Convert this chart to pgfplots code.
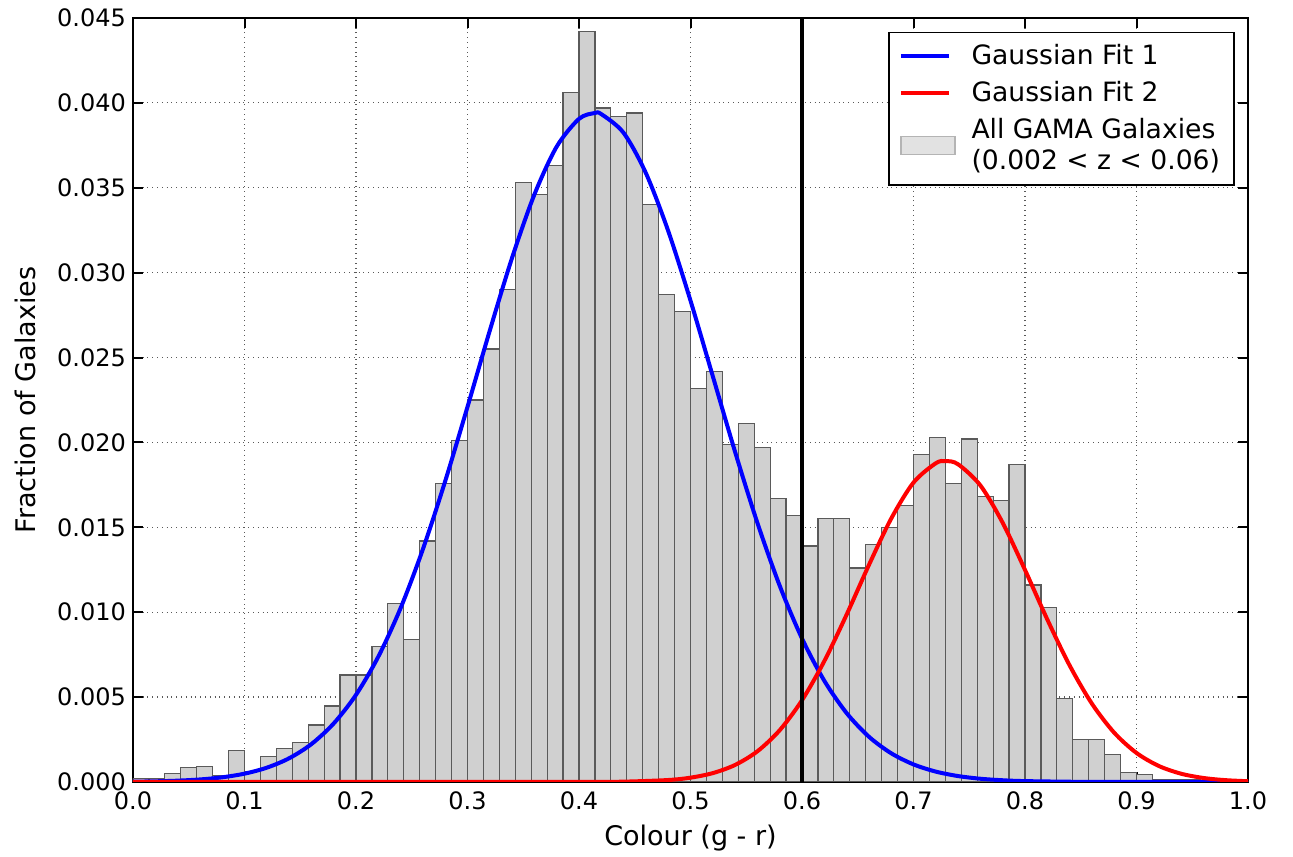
\documentclass[border=0pt]{standalone}
\usepackage{fontspec}
\setmainfont{DejaVu Sans}
\usepackage{pgfplots}
\pgfplotsset{compat=1.18}
\definecolor{barfill}{RGB}{208,208,208}
\definecolor{baredge}{RGB}{90,90,90}
\definecolor{legfill}{RGB}{226,226,226}
\definecolor{legedge}{RGB}{180,180,180}
\begin{document}
\begin{tikzpicture}
\begin{axis}[
  name=ax,
  scale only axis,
  width=557.5pt, height=382pt,
  xmin=0, xmax=1, ymin=0, ymax=0.045,
  xtick={0,0.1,...,1.0},
  ytick={0,0.005,0.01,0.015,0.02,0.025,0.03,0.035,0.04,0.045},
  scaled y ticks=false, scaled x ticks=false,
  /pgf/number format/assume math mode=true,
  xticklabel style={/pgf/number format/.cd,fixed,fixed zerofill,precision=1,/tikz/.cd,yshift=-1.5pt},
  yticklabel style={/pgf/number format/.cd,fixed,fixed zerofill,precision=3},
  tick label style={font=\fontsize{12}{14}\selectfont},
  label style={font=\fontsize{13.5}{16}\selectfont},
  xlabel={Colour (g - r)},
  ylabel={Fraction of Galaxies},
  xlabel style={at={(axis description cs:0.5,-0.0733)}, anchor=center},
  ylabel style={at={(axis description cs:-0.0969,0.5)}, anchor=center},
  tick align=inside,
  major tick length=5pt,
  tick style={black, line width=1pt},
  axis line style={line width=1.2pt},
  grid=major,
  grid style={dotted, black!65, line width=0.6pt},
  legend style={at={(0.988,0.982)}, anchor=north east, draw=black, line width=0.6pt,
    font=\fontsize{13.3}{15.5}\selectfont, nodes={align=left}, row sep=3pt,
    column sep=6pt, inner xsep=5pt, inner ysep=4pt},
  legend cell align=left,
  legend image code/.code={\draw[#1] (0pt,0pt) -- (24pt,0pt);},
]
\addplot[ybar interval, fill=barfill, draw=baredge, line width=0.6pt, forget plot] coordinates {
(0.00000,0.0002) (0.01429,0.0002) (0.02857,0.0005) (0.04286,0.00085) (0.05714,0.0009)
(0.07143,0.0004) (0.08571,0.00185) (0.10000,0.0006) (0.11429,0.0015) (0.12857,0.00195)
(0.14286,0.00234) (0.15714,0.00336) (0.17143,0.00448) (0.18571,0.0063) (0.20000,0.0063)
(0.21429,0.0080) (0.22857,0.0105) (0.24286,0.0084) (0.25714,0.0142) (0.27143,0.0176)
(0.28571,0.0201) (0.30000,0.0225) (0.31429,0.0255) (0.32857,0.0290) (0.34286,0.0353)
(0.35714,0.0346) (0.37143,0.0363) (0.38571,0.0406) (0.40000,0.0442) (0.41429,0.0397)
(0.42857,0.0392) (0.44286,0.0394) (0.45714,0.0340) (0.47143,0.0287) (0.48571,0.0277)
(0.50000,0.0232) (0.51429,0.0242) (0.52857,0.0199) (0.54286,0.0211) (0.55714,0.0197)
(0.57143,0.0167) (0.58571,0.0157) (0.60000,0.0139) (0.61429,0.0155) (0.62857,0.0155)
(0.64286,0.0126) (0.65714,0.0140) (0.67143,0.0150) (0.68571,0.0163) (0.70000,0.0193)
(0.71429,0.0203) (0.72857,0.0176) (0.74286,0.0202) (0.75714,0.0168) (0.77143,0.0166)
(0.78571,0.0187) (0.80000,0.0116) (0.81429,0.0103) (0.82857,0.0049) (0.84286,0.0025)
(0.85714,0.0025) (0.87143,0.0016) (0.88571,0.00055) (0.90000,0.00045) (0.91429,0.00015)
(0.92857,0.00015) (0.94286,0.00015) (0.95714,0.00005) (0.97143,0.00005) (0.98571,0.00005)
(1.00000,0.00005)
};
\addplot[blue, line width=2pt, smooth] coordinates {
(0.00,0.0000192) (0.02,0.0000394) (0.04,0.0000781) (0.06,0.000149) (0.08,0.000275)
(0.10,0.000490) (0.12,0.000842) (0.14,0.001395) (0.16,0.002232) (0.18,0.003447)
(0.20,0.005134) (0.22,0.007382) (0.24,0.010242) (0.26,0.013713) (0.28,0.017720)
(0.30,0.022097) (0.32,0.026590) (0.34,0.030879) (0.36,0.034605) (0.38,0.037424)
(0.40,0.039058) (0.414,0.0394) (0.42,0.039337) (0.44,0.038233) (0.46,0.035860)
(0.48,0.032457) (0.50,0.028350) (0.52,0.023897) (0.54,0.019439) (0.56,0.015260)
(0.58,0.011560) (0.60,0.008451) (0.62,0.005962) (0.64,0.004059) (0.66,0.002667)
(0.68,0.001691) (0.70,0.001035) (0.72,0.000611) (0.74,0.000348) (0.76,0.000191)
(0.78,0.000102) (0.80,0.000052) (0.85,0.0000084) (0.90,0.000001) (1.00,0.0)
};
\addlegendentry{Gaussian Fit 1}
\addplot[red, line width=2pt, smooth] coordinates {
(0.00,0.0) (0.20,0.0) (0.40,0.0000026) (0.44,0.0000198) (0.48,0.000116)
(0.50,0.000254) (0.52,0.000522) (0.54,0.001004) (0.56,0.001808) (0.58,0.003049)
(0.60,0.004814) (0.62,0.007119) (0.64,0.009857) (0.66,0.012780) (0.68,0.015516)
(0.70,0.017638) (0.72,0.018775) (0.729,0.0189) (0.74,0.018713) (0.76,0.017465)
(0.78,0.015263) (0.80,0.012490) (0.82,0.009570) (0.84,0.006866) (0.86,0.004613)
(0.88,0.002902) (0.90,0.001709) (0.92,0.000943) (0.94,0.000487) (0.96,0.000236)
(0.98,0.000107) (1.00,0.000045)
};
\addlegendentry{Gaussian Fit 2}
\addplot[black, line width=1.6pt, forget plot] coordinates {(0.6,0) (0.6,0.045)};
\addlegendimage{legend image code/.code={\draw[fill=legfill, draw=legedge, line width=0.6pt] (0pt,-4.5pt) rectangle (27pt,4.5pt);}}
\addlegendentry{All GAMA Galaxies\\(0.002 < z < 0.06)}
\end{axis}
\pgfresetboundingbox
\path ([shift={(-66.5pt,-37.5pt)}]ax.south west) rectangle ([shift={(22.5pt,9pt)}]ax.north east);
\end{tikzpicture}
\end{document}
